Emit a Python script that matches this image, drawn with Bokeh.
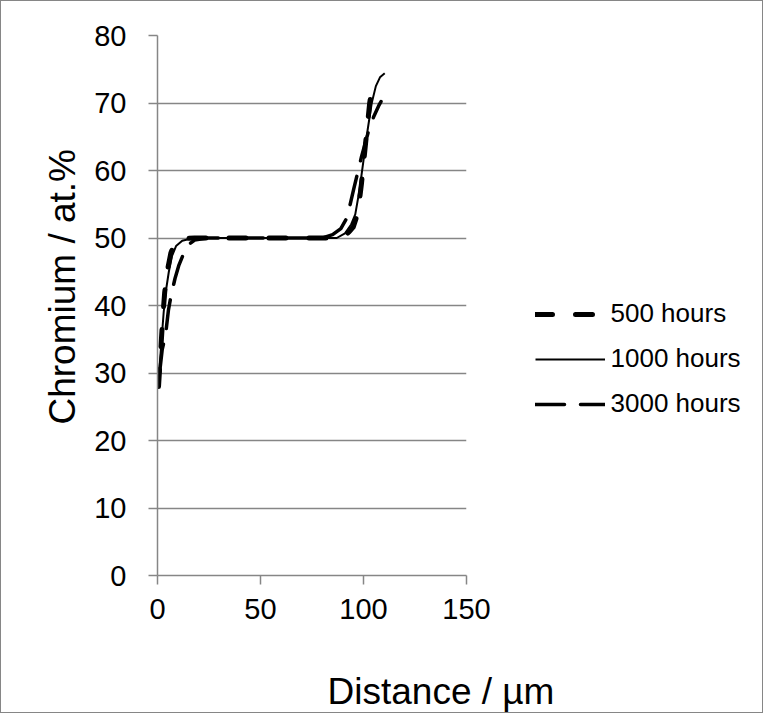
from bokeh.plotting import figure
from bokeh.models import Range1d, Legend, LegendItem, Title, Label, FixedTicker
from bokeh.layouts import row, column
from bokeh.embed import file_html
from bokeh.resources import INLINE

# ---- data ----
x_500 = [0.5, 1.5, 2.5, 3.5, 5, 6.5, 8, 10, 13, 18, 30, 50, 70, 85, 88, 91, 93, 95,
         96.5, 98, 99, 100, 101, 102, 103, 104, 105.5]
y_500 = [28, 33, 38, 42, 45.5, 47.8, 49, 49.6, 49.9, 50, 50, 50, 50, 50, 50.1, 50.4,
         50.9, 51.6, 53, 55.5, 58, 61, 64, 67, 70, 72, 73.3]

x_1000 = [0.5, 2, 3, 4, 5.5, 7, 9, 12, 16, 22, 40, 60, 80, 87, 91, 94, 96, 98, 100,
          102, 104, 106, 108, 110.3]
y_1000 = [29, 35, 39, 42, 45, 47.3, 48.8, 49.6, 49.9, 50, 50, 50, 50, 50, 50.7, 52,
          53.5, 57, 61.5, 66, 70, 72.5, 73.8, 74.4]

x_3000 = [1, 2.3, 3.9, 5.3, 6.6, 8.5, 10.3, 12.7, 15, 18, 24, 40, 60, 80, 85, 89, 92,
          95.3, 99, 102.6, 105, 107.4, 108.5]
y_3000 = [30, 33.5, 35.6, 39.3, 41.5, 44, 45.9, 47.7, 49, 49.7, 50, 50, 50, 50, 50.5,
          51.4, 53, 57.3, 62, 66, 68, 69.6, 70.2]

series_names = ["500 hours", "1000 hours", "3000 hours"]
x_ticks = [0, 50, 100, 150]
y_ticks = [0, 10, 20, 30, 40, 50, 60, 70, 80]
x_title = "Distance / µm"
y_title = "Chromium / at.%"

FONT = "Liberation Sans"
GRAY = "#868686"

STYLES = [
    dict(line_color="black", line_width=5, line_dash="17 23", line_cap="round",
         line_join="round"),
    dict(line_color="black", line_width=2),
    dict(line_color="black", line_width=3.5, line_dash="29 16", line_cap="round",
         line_join="round"),
]

# ---- main plot ----
p = figure(width=500, height=640, output_backend="svg", toolbar_location=None,
           x_range=Range1d(0, 150), y_range=Range1d(0, 80),
           min_border_left=156, min_border_right=35,
           min_border_top=34, min_border_bottom=66)
p.outline_line_color = None
p.background_fill_color = "white"
p.border_fill_color = "white"

for ax in (p.xaxis[0], p.yaxis[0]):
    ax.axis_line_color = GRAY
    ax.axis_line_width = 1.5
    ax.major_tick_line_color = GRAY
    ax.major_tick_line_width = 1.5
    ax.major_tick_in = 0
    ax.major_tick_out = 9
    ax.minor_tick_line_color = None
    ax.major_label_text_font = FONT
    ax.major_label_text_font_size = "29px"
    ax.major_label_text_color = "black"

p.xaxis[0].ticker = FixedTicker(ticks=x_ticks)
p.yaxis[0].ticker = FixedTicker(ticks=y_ticks)
p.xaxis[0].major_label_standoff = 14
p.yaxis[0].major_label_standoff = 22

p.xgrid.grid_line_color = None
p.ygrid.grid_line_color = GRAY
p.ygrid.grid_line_width = 1.5
p.ygrid.ticker = FixedTicker(ticks=y_ticks)

p.line(x_500, y_500, **STYLES[0])
p.line(x_1000, y_1000, **STYLES[1])
p.line(x_3000, y_3000, **STYLES[2])

p.add_layout(Title(text=y_title, align="left", offset=151, standoff=17,
                   vertical_align="bottom", text_font=FONT, text_font_size="37px",
                   text_font_style="normal", text_color="black"), "left")

# ---- legend panel (right of the plot); its ranges keep the key lines off-canvas ----
p2 = figure(width=261, height=640, output_backend="svg", toolbar_location=None,
            x_axis_type=None, y_axis_type=None, x_range=Range1d(1000, 1001),
            y_range=Range1d(1000, 1001), min_border=0)
p2.outline_line_color = None
p2.border_fill_color = "white"
p2.background_fill_color = "white"
keys = [p2.line(x_500, y_500, **STYLES[0]),
        p2.line(x_1000, y_1000, **STYLES[1]),
        p2.line(x_3000, y_3000, **STYLES[2])]
legend = Legend(items=[LegendItem(label=n, renderers=[r]) for n, r in zip(series_names, keys)],
                location=(33.5, 156), glyph_width=70, glyph_height=30,
                label_height=30, spacing=14, padding=0, margin=0,
                label_standoff=6, border_line_color=None,
                background_fill_alpha=0, label_text_font=FONT,
                label_text_font_size="26px", label_text_color="black")
p2.add_layout(legend)

# ---- x-axis title strip ----
p3 = figure(width=761, height=71, output_backend="svg", toolbar_location=None,
            x_axis_type=None, y_axis_type=None, x_range=Range1d(0, 1),
            y_range=Range1d(0, 1), min_border=0)
p3.outline_line_color = None
p3.border_fill_color = "white"
p3.background_fill_color = "white"
p3.add_layout(Label(x=326, y=21, x_units="screen", y_units="screen", text=x_title,
                    text_align="left", text_baseline="alphabetic", text_font=FONT,
                    text_font_size="37px", text_color="black"))

layout = column(row(p, p2, spacing=0), p3, spacing=0,
                styles={"border": "1.5px solid #868686"})

open("out.html", "w").write(file_html(layout, INLINE))
